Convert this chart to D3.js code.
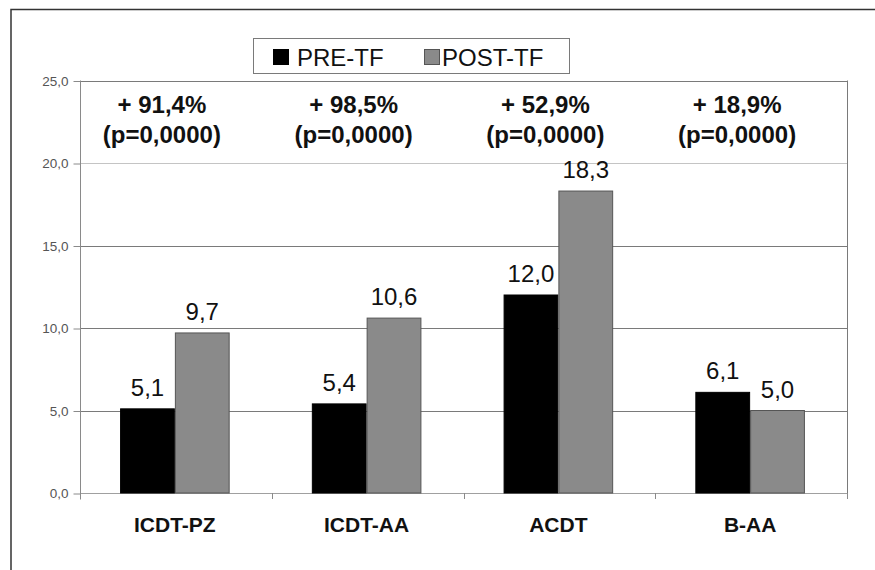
<!DOCTYPE html>
<html>
<head>
<meta charset="utf-8">
<script src="https://cdn.jsdelivr.net/npm/d3@7/dist/d3.min.js"></script>
<style>
  html, body { margin: 0; padding: 0; background: #fff; }
  svg { display: block; font-family: Arial, "Liberation Sans", sans-serif; }
</style>
</head>
<body>
<svg id="chart" width="875" height="570"></svg>
<script>
// Categories and series
const categories = ["ICDT-PZ", "ICDT-AA", "ACDT", "B-AA"];
const seriesNames = ["PRE-TF", "POST-TF"];
const preValues = [5.1, 5.4, 12.0, 6.1];
const postValues = [9.7, 10.6, 18.3, 5.0];
const changeLabels = ["+ 91,4%", "+ 98,5%", "+ 52,9%", "+ 18,9%"];
const pLabels = ["(p=0,0000)", "(p=0,0000)", "(p=0,0000)", "(p=0,0000)"];
const yTicks = [0, 5, 10, 15, 20, 25];

const seriesColors = { "PRE-TF": "#000000", "POST-TF": "#8a8a8a" };
const seriesStroke = { "PRE-TF": "#000000", "POST-TF": "#555555" };

const fmt = v => v.toFixed(1).replace(".", ",");

const svg = d3.select("#chart");
const plotLeft = 80, plotRight = 847, plotTop = 80.5, plotBottom = 493;

// Outer frame (top and left edges)
svg.append("path")
  .attr("d", `M11,570 L11,9.5 L875,9.5`)
  .attr("fill", "none").attr("stroke", "#333").attr("stroke-width", 1.5);

const x = d3.scaleBand().domain(categories).range([plotLeft, plotRight]).padding(0);
const xs = d3.scaleBand().domain(seriesNames).range([-1, x.bandwidth() - 1])
  .paddingInner(0).paddingOuter(0.75);
const y = d3.scaleLinear().domain([0, 25]).range([plotBottom, plotTop]);

// Gridlines
svg.append("g").selectAll("line").data(yTicks.filter(t => t > 0)).join("line")
  .attr("x1", plotLeft).attr("x2", plotRight)
  .attr("y1", d => Math.round(y(d)) + 0.5).attr("y2", d => Math.round(y(d)) + 0.5)
  .attr("stroke", d => d === 20 ? "#c4c4c4" : "#7a7a7a").attr("stroke-width", 1);

// Right edge of plot area
svg.append("line")
  .attr("x1", plotRight + 0.5).attr("x2", plotRight + 0.5)
  .attr("y1", plotTop).attr("y2", plotBottom + 6)
  .attr("stroke", "#7a7a7a");

// Y axis
const yAxis = d3.axisLeft(y).tickValues(yTicks).tickFormat(fmt).tickSize(7).tickPadding(5);
const gy = svg.append("g").attr("transform", `translate(${plotLeft + 0.5},0.5)`).call(yAxis);
gy.select(".domain").attr("stroke", "#8a8a8a").attr("d", `M0,${plotTop - 0.5}V${plotBottom + 6}`);
gy.selectAll(".tick line").attr("stroke", "#8a8a8a");
gy.selectAll(".tick text").attr("fill", "#555").style("font-size", "13.5px")
  .style("font-family", "Arial, 'Liberation Sans', sans-serif");

// X axis baseline and category boundary ticks
svg.append("line")
  .attr("x1", plotLeft).attr("x2", plotRight)
  .attr("y1", plotBottom + 0.5).attr("y2", plotBottom + 0.5)
  .attr("stroke", "#a0a0a0");
const boundaries = categories.map(c => x(c)).concat([plotRight]);
svg.append("g").selectAll("line").data(boundaries).join("line")
  .attr("x1", d => Math.round(d) + 0.5).attr("x2", d => Math.round(d) + 0.5)
  .attr("y1", plotBottom).attr("y2", plotBottom + 6)
  .attr("stroke", "#8a8a8a");

// Category labels
svg.append("g").selectAll("text").data(categories).join("text")
  .attr("x", d => x(d) + x.bandwidth() / 2 - 1)
  .attr("y", 532)
  .attr("text-anchor", "middle")
  .style("font-size", "21px").style("font-weight", "bold")
  .attr("fill", "#111")
  .text(d => d);

// Bars
const rows = categories.map((c, i) => ({ cat: c, vals: [
  { s: "PRE-TF", v: preValues[i] }, { s: "POST-TF", v: postValues[i] }] }));

const groups = svg.append("g").selectAll("g").data(rows).join("g")
  .attr("transform", d => `translate(${x(d.cat)},0)`);

groups.selectAll("rect").data(d => d.vals).join("rect")
  .attr("x", d => xs(d.s) + 0.5)
  .attr("y", d => y(d.v))
  .attr("width", xs.bandwidth() - 1)
  .attr("height", d => plotBottom - y(d.v))
  .attr("fill", d => seriesColors[d.s])
  .attr("stroke", d => seriesStroke[d.s])
  .attr("stroke-width", 1);

// Value labels
groups.selectAll("text").data(d => d.vals).join("text")
  .attr("x", d => xs(d.s) + xs.bandwidth() / 2)
  .attr("y", d => y(d.v) - 13)
  .attr("text-anchor", "middle")
  .style("font-size", "24px")
  .attr("fill", "#111")
  .text(d => fmt(d.v));

// Change annotations
const ann = svg.append("g");
ann.selectAll("text.chg").data(categories).join("text").attr("class", "chg")
  .attr("x", d => x(d) + x.bandwidth() / 2 - 14)
  .attr("y", 113)
  .attr("text-anchor", "middle")
  .style("font-size", "24px").style("font-weight", "bold").attr("fill", "#111")
  .text((d, i) => changeLabels[i]);
ann.selectAll("text.pv").data(categories).join("text").attr("class", "pv")
  .attr("x", d => x(d) + x.bandwidth() / 2 - 14)
  .attr("y", 143)
  .attr("text-anchor", "middle")
  .style("font-size", "24px").style("font-weight", "bold").attr("fill", "#111")
  .text((d, i) => pLabels[i]);

// Legend
const legend = svg.append("g");
legend.append("rect")
  .attr("x", 253.5).attr("y", 38.5).attr("width", 316).attr("height", 35)
  .attr("fill", "#fff").attr("stroke", "#7a7a7a");
const legendItems = [
  { s: seriesNames[0], sx: 273, tx: 297 },
  { s: seriesNames[1], sx: 424, tx: 442 }
];
legend.selectAll("rect.sw").data(legendItems).join("rect").attr("class", "sw")
  .attr("x", d => d.sx + 0.5).attr("y", 49.5).attr("width", 15).attr("height", 15)
  .attr("fill", d => seriesColors[d.s]).attr("stroke", d => seriesStroke[d.s]);
legend.selectAll("text").data(legendItems).join("text")
  .attr("x", d => d.tx).attr("y", 65.5)
  .style("font-size", "24px").attr("fill", "#111")
  .text(d => d.s);
</script>
</body>
</html>
